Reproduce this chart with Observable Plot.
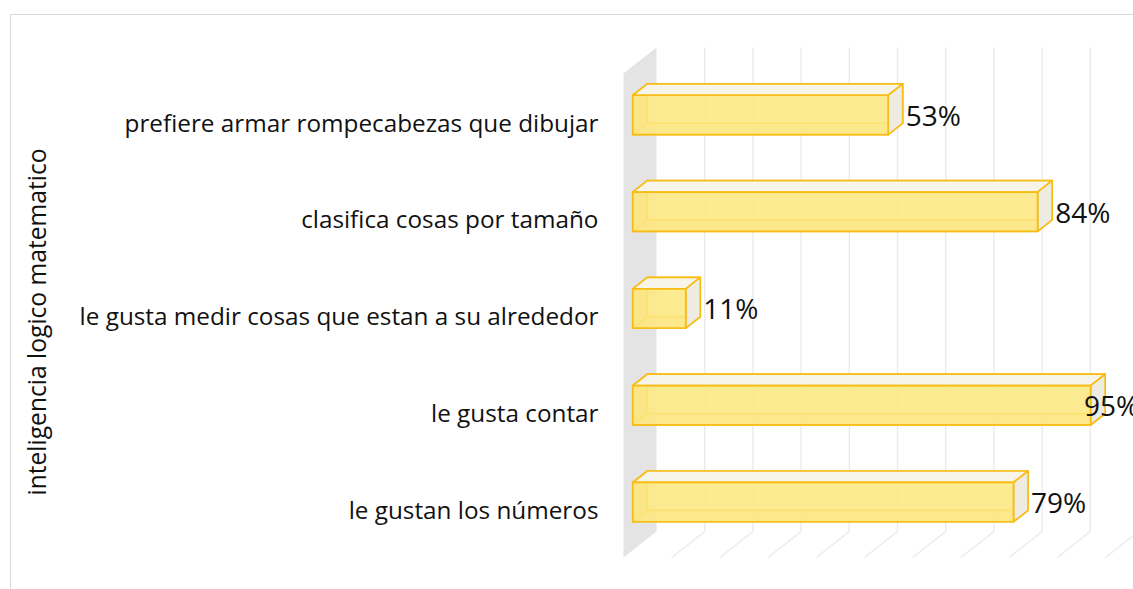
<!DOCTYPE html>
<html><head><meta charset="utf-8">
<script src="https://cdn.jsdelivr.net/npm/d3@7"></script>
<script src="https://cdn.jsdelivr.net/npm/@observablehq/plot@0.6"></script>
<style>
html,body{margin:0;padding:0;background:#fff;overflow:hidden;width:1133px;height:589px;}
#chart{position:absolute;left:0;top:0;}
#frame{position:absolute;left:10px;top:14px;width:1140px;height:600px;border:1.5px solid #d9d9d9;pointer-events:none;}
</style></head><body>
<div id="chart"></div><div id="frame"></div>
<script>
const categories = [
  "prefiere armar rompecabezas que dibujar",
  "clasifica cosas por tamaño",
  "le gusta medir cosas que estan a su alrededor",
  "le gusta contar",
  "le gustan los números"
];
const values = [53, 84, 11, 95, 79];
const axisTitle = "inteligencia logico matematico";
const gridTicks = [10, 20, 30, 40, 50, 60, 70, 80, 90, 100];

// oblique projection of depth (pixels per unit depth converted to data units)
const KX = 33 / 4.82, KY = -26 / 96.8;
const D0 = 0.28, D1 = 0.72, B0 = 0.30, B1 = 0.706;
const FONT = "'Open Sans', 'Noto Sans', sans-serif";

const rows = categories.map((c, i) => ({category: c, value: values[i], row: i}));
const P = (x, y, d, bar) => ({x: x + d * KX, y: y + d * KY, bar});

function face(kind) {
  return rows.flatMap(({value: v, row: r}) => {
    const y0 = r + B0, y1 = r + B1;
    let pts;
    switch (kind) {
      case "front": pts = [[0,y0,D0],[v,y0,D0],[v,y1,D0],[0,y1,D0],[0,y0,D0]]; break;
      case "back": pts = [[0,y0,D1],[v,y0,D1],[v,y1,D1],[0,y1,D1],[0,y0,D1]]; break;
      case "left": pts = [[0,y0,D0],[0,y1,D0],[0,y1,D1],[0,y0,D1],[0,y0,D0]]; break;
      case "bottom": pts = [[0,y1,D0],[v,y1,D0],[v,y1,D1],[0,y1,D1],[0,y1,D0]]; break;
      case "top": pts = [[0,y0,D0],[v,y0,D0],[v,y0,D1],[0,y0,D1],[0,y0,D0]]; break;
      case "right": pts = [[v,y0,D0],[v,y1,D0],[v,y1,D1],[v,y0,D1],[v,y0,D0]]; break;
    }
    return pts.map(([x, y, d]) => P(x, y, d, r));
  });
}
const wall = [[0,0,0],[0,0,1],[0,5,1],[0,5,0],[0,0,0]].map(([x,y,d]) => P(x, y, d, "wall"));

const EDGE = "#f8bd15";
const faceMark = (kind, fill, fillOpacity, strokeOpacity) =>
  Plot.line(face(kind), {x: "x", y: "y", z: "bar", fill, fillOpacity, stroke: EDGE, strokeWidth: 1.7, strokeOpacity, strokeLinejoin: "round"});

const chart = Plot.plot({
  width: 1133, height: 589,
  marginLeft: 0, marginRight: 0, marginTop: 0, marginBottom: 0,
  x: {type: "linear", domain: [0, 100], range: [623, 1105], axis: null},
  y: {type: "linear", domain: [0, 5], range: [73, 557], axis: null},
  style: {background: "transparent", fontFamily: FONT},
  marks: [
    Plot.line(wall, {x: "x", y: "y", fill: "#e4e4e4", stroke: "none"}),
    Plot.link(gridTicks, {x1: t => t + KX, x2: t => t + KX, y1: () => KY, y2: () => 5 + KY, stroke: "#ebebeb", strokeWidth: 1.4}),
    Plot.link(gridTicks, {x1: t => t + KX, y1: () => 5 + KY, x2: t => t, y2: () => 5, stroke: "#ebebeb", strokeWidth: 1.4}),
    faceMark("back", "#fff6cf", 0.5, 0.75),
    faceMark("bottom", "#fde58a", 0.5, 0.75),
    faceMark("left", "#fcd66e", 0.5, 0.75),
    faceMark("top", "#f7f4ea", 1, 1),
    faceMark("right", "#eeebe3", 1, 1),
    faceMark("front", "#fde781", 0.85, 1),
    Plot.text(rows, {x: () => 0, y: d => d.row + 0.5, text: "category", textAnchor: "end", dx: -25, dy: 2, fontSize: 24.3, fill: "#111", lineAnchor: "middle"}),
    Plot.text(rows, {x: d => Math.min(d.value, 90) + D1 * KX, y: d => d.row + 0.5, dy: -5, dx: 3, text: d => d.value + "%", textAnchor: "start", fontSize: 28, fill: "#111", lineAnchor: "middle"}),
    Plot.text([axisTitle], {frameAnchor: "left", dx: 38, dy: 27, rotate: -90, fontSize: 24.6, fill: "#111", textAnchor: "middle", lineAnchor: "middle"})
  ]
});
document.getElementById("chart").appendChild(chart);
</script>
</body></html>
